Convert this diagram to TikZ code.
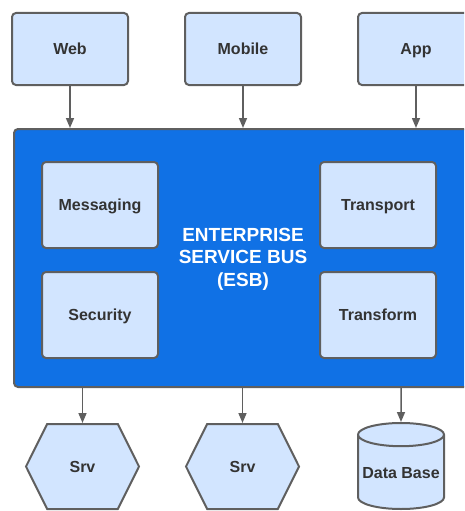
\documentclass[tikz,border=0pt]{standalone}
\usepackage{fontspec}
\setmainfont{Liberation Sans}
\usetikzlibrary{positioning,arrows.meta,shapes.geometric,shapes.symbols}

\definecolor{boxfill}{HTML}{D2E5FF}
\definecolor{boxline}{HTML}{5F5F5F}
\definecolor{busfill}{HTML}{1071E5}
\definecolor{textcol}{HTML}{333333}

\tikzset{
  label text/.style={text=textcol, font=\fontsize{16}{19}\selectfont\bfseries,
    text height=11.5pt, text depth=0pt},
  box/.style={draw=boxline, line width=2pt, fill=boxfill, rounded corners=4pt,
    minimum width=116pt, minimum height=72pt, label text},
  inbox/.style={box, minimum height=86pt},
  hexa/.style={draw=boxline, line width=2pt, fill=boxfill, signal, signal to=west and east,
    signal pointer angle=127, minimum width=113pt, minimum height=85pt, inner sep=0pt,
    label text},
  dbase/.style={draw=boxline, line width=2pt, fill=boxfill, cylinder, shape border rotate=90,
    aspect=0.3, minimum width=86pt, minimum height=86pt, inner sep=0pt,
    label text},
  link/.style={draw=boxline, line width=1.5pt, -{Triangle[length=10pt,width=8pt]}}
}

\begin{document}
\begin{tikzpicture}[x=1pt, y=-1pt]
\useasboundingbox (0,0) rectangle (464,511);
\clip (0,0) rectangle (464,511);

%bus
\node[draw=boxline, line width=2pt, fill=busfill, rounded corners=4pt, minimum width=470pt,
  minimum height=258pt, anchor=north west] (esb) at (13,128) {};
\node[text=white, align=center, font=\fontsize{19}{22.5}\selectfont\bfseries] (esbname) at (243,259)
  {ENTERPRISE\\SERVICE BUS\\(ESB)};

%clients
\node[box] (web) at (70,49) {Web};
\node[box] (mobile) at (243,49) {Mobile};
\node[box] (app) at (416,49) {App};

%parts of the bus
\node[inbox] (messaging) at (100,205) {Messaging};
\node[inbox] (transport) at (378,205) {Transport};
\node[inbox] (security) at (100,315) {Security};
\node[inbox] (transform) at (378,315) {Transform};

%back ends
\node[hexa] (srv1) at (82.5,466.5) {Srv};
\node[hexa] (srv2) at (242.5,466.5) {Srv};
\node[dbase, anchor=shape center] (db) at (401,466) {Data Base};

%links
\draw[link] (web.south) -- (web |- esb.north);
\draw[link] (mobile.south) -- (mobile |- esb.north);
\draw[link] (app.south) -- (app |- esb.north);

\draw[link] (esb.south -| srv1) -- (srv1.north);
\draw[link] (esb.south -| srv2) -- (srv2.north);
\draw[link] (esb.south -| db) -- (db.north);

\end{tikzpicture}
\end{document}
